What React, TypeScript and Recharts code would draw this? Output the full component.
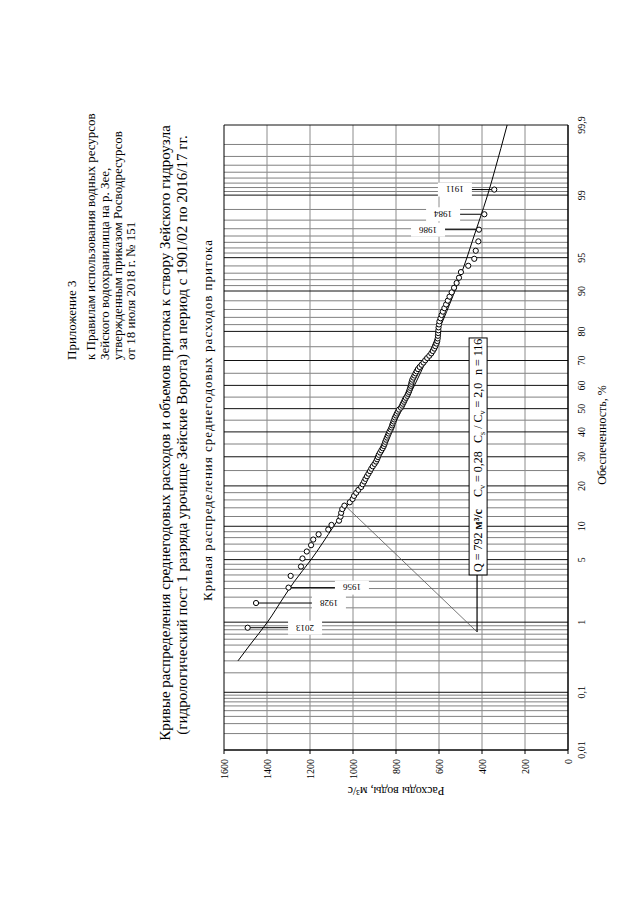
import React from 'react';
import {
  ComposedChart,
  Scatter,
  Line,
  XAxis,
  YAxis,
  ReferenceLine,
  ReferenceDot,
} from 'recharts';

const FONT = '"Liberation Serif", "Times New Roman", serif';

// probability axis (exceedance, %), drawn on normal probability paper
const PROB_TICKS = [0.01, 0.1, 1, 5, 10, 20, 30, 40, 50, 60, 70, 80, 90, 95, 99, 99.9];
const PROB_GRID = [
  0.02, 0.03, 0.04, 0.05, 0.06, 0.07, 0.08, 0.09,
  0.2, 0.3, 0.4, 0.5, 0.6, 0.7, 0.8, 0.9,
  1.5, 2, 2.5, 3, 3.5, 4, 4.5,
  6, 7, 8, 9, 12, 14, 16, 18,
  25, 35, 45, 55, 65, 75,
  82, 84, 86, 88, 91, 92, 93, 94,
  95.5, 96, 96.5, 97, 97.5, 98, 98.5,
  99.1, 99.2, 99.3, 99.4, 99.5, 99.6, 99.7, 99.8,
];
const Q_TICKS = [0, 200, 400, 600, 800, 1000, 1200, 1400, 1600];

// observed annual discharges, m3/s, at their plotting positions (%)
const OBS_P = [
  0.85, 1.71, 2.56, 3.42, 4.27, 5.13, 5.98, 6.84, 7.69, 8.55,
  9.4, 10.26, 11.11, 11.97, 12.82, 13.68, 14.53, 15.38, 16.24, 17.09,
  17.95, 18.8, 19.66, 20.51, 21.37, 22.22, 23.08, 23.93, 24.79, 25.64,
  26.5, 27.35, 28.21, 29.06, 29.91, 30.77, 31.62, 32.48, 33.33, 34.19,
  35.04, 35.9, 36.75, 37.61, 38.46, 39.32, 40.17, 41.03, 41.88, 42.74,
  43.59, 44.44, 45.3, 46.15, 47.01, 47.86, 48.72, 49.57, 50.43, 51.28,
  52.14, 52.99, 53.85, 54.7, 55.56, 56.41, 57.26, 58.12, 58.97, 59.83,
  60.68, 61.54, 62.39, 63.25, 64.1, 64.96, 65.81, 66.67, 67.52, 68.38,
  69.23, 70.09, 70.94, 71.79, 72.65, 73.5, 74.36, 75.21, 76.07, 76.92,
  77.78, 78.63, 79.49, 80.34, 81.2, 82.05, 82.91, 83.76, 84.62, 85.47,
  86.32, 87.18, 88.03, 88.89, 89.74, 90.6, 91.45, 92.31, 93.16, 94.02,
  94.87, 95.73, 96.58, 97.44, 98.29, 99.15,
];
const OBS_Q = [
  1490, 1451, 1300, 1290, 1242, 1235, 1215, 1195, 1185, 1160,
  1115, 1100, 1065, 1058, 1055, 1050, 1040, 1015, 1002, 995,
  985, 975, 962, 955, 948, 942, 935, 928, 921, 915,
  908, 900, 893, 888, 884, 880, 874, 868, 862, 857,
  853, 850, 846, 842, 838, 834, 830, 825, 821, 818,
  815, 811, 808, 805, 800, 796, 791, 786, 777, 772,
  768, 763, 759, 754, 748, 744, 740, 737, 734, 731,
  729, 727, 724, 719, 714, 709, 704, 698, 690, 681,
  672, 664, 655, 645, 636, 629, 622, 617, 612, 608,
  606, 605, 604, 603, 602, 600, 598, 593, 588, 582,
  575, 567, 559, 551, 541, 530, 518, 507, 498, 464,
  436, 429, 417, 414, 389, 343,
];

// fitted distribution curve
const CURVE_P = [0.3, 0.5, 1, 2, 3, 5, 10, 20, 30, 40, 50, 60, 70, 80, 90, 95, 97, 98, 99, 99.5, 99.9];
const CURVE_Q = [1535, 1480, 1398, 1322, 1272, 1195, 1090, 968, 890, 827, 770, 714, 660, 603, 526, 470, 437, 412, 374, 343, 283];

// years marked on the extreme points
const YEAR_NAMES = ['2013', '1928', '1956', '1986', '1984', '1911'];
const YEAR_P = [0.85, 1.71, 2.56, 97.44, 98.29, 99.15];
const YEAR_Q = [1490, 1451, 1300, 414, 389, 343];
const YEAR_AT = [1223, 1112, 1005, 651, 581, 526];

// parameters box (top-left corner) and its pointer
const BOX_P = 3.5;
const BOX_Q = 460;
const LINK_P = [0.75, 14.1];
const LINK_Q = [423, 1028];

// inverse standard normal (Acklam)
function probit(p: number): number {
  const a = [-39.69683028665376, 220.9460984245205, -275.9285104469687, 138.357751867269, -30.66479806614716, 2.506628277459239];
  const b = [-54.47609879822406, 161.5858368580409, -155.6989798598866, 66.80131188771972, -13.28068155288572];
  const c = [-0.007784894002430293, -0.3223964580411365, -2.400758277161838, -2.549671348980410, 4.374664141464968, 2.938163982698783];
  const d = [0.007784695709041462, 0.3224671290700398, 2.445134137142996, 3.754408661907416];
  const pl = 0.02425;
  if (p < pl) {
    const q = Math.sqrt(-2 * Math.log(p));
    return (((((c[0] * q + c[1]) * q + c[2]) * q + c[3]) * q + c[4]) * q + c[5]) / ((((d[0] * q + d[1]) * q + d[2]) * q + d[3]) * q + 1);
  }
  if (p <= 1 - pl) {
    const q = p - 0.5;
    const r = q * q;
    return ((((((a[0] * r + a[1]) * r + a[2]) * r + a[3]) * r + a[4]) * r + a[5]) * q) / (((((b[0] * r + b[1]) * r + b[2]) * r + b[3]) * r + b[4]) * r + 1);
  }
  const q = Math.sqrt(-2 * Math.log(1 - p));
  return -(((((c[0] * q + c[1]) * q + c[2]) * q + c[3]) * q + c[4]) * q + c[5]) / ((((d[0] * q + d[1]) * q + d[2]) * q + d[3]) * q + 1);
}

const zOf = (p: number) => probit(p / 100);
const Z_MIN = zOf(0.01);
const Z_MAX = zOf(99.9);

const obsData = OBS_P.map((p, i) => ({ z: zOf(p), q: OBS_Q[i] }));
const curveData = CURVE_P.map((p, i) => ({ z: zOf(p), q: CURVE_Q[i] }));

const probLabel = (z: number) => {
  const i = PROB_TICKS.findIndex((p) => Math.abs(zOf(p) - z) < 1e-9);
  return i < 0 ? '' : String(PROB_TICKS[i]).replace('.', ',');
};

const Circle = (props: any) => (
  <circle cx={props.cx} cy={props.cy} r={2.6} fill="#fff" stroke="#000" strokeWidth={1} />
);

const YearTag = (name: string) => (props: any) => (
  <g transform={`translate(${props.cx},${props.cy})`}>
    <rect x={-7} y={-17} width={14} height={34} fill="#fff" />
    <text transform="rotate(-90)" textAnchor="middle" dy="0.35em" fontSize={9} fontFamily={FONT} fill="#000">
      {name}
    </text>
  </g>
);

// box with the distribution parameters, anchored at its top-left corner
const ParamBox = (props: any) => {
  const x = props.cx;
  const y = props.cy;
  const width = 237;
  const height = 18;
  const base = y + height / 2 + 4;
  const sub = { fontSize: 8 };
  return (
    <g fontFamily={FONT} fontSize={12} fill="#000">
      <rect x={x} y={y} width={width} height={height} fill="#fff" stroke="#000" strokeWidth={1} />
      <text x={x + 3} y={base}>
        Q = 792 <tspan fontWeight="bold">м³/с</tspan>
      </text>
      <text x={x + 78} y={base}>
        C<tspan dy={3} {...sub}>v</tspan>
        <tspan dy={-3}> = 0,28</tspan>
      </text>
      <text x={x + 132} y={base}>
        C<tspan dy={3} {...sub}>s</tspan>
        <tspan dy={-3}> / C</tspan>
        <tspan dy={3} {...sub}>v</tspan>
        <tspan dy={-3}> = 2,0</tspan>
      </text>
      <text x={x + 200} y={base}>n = 116</text>
    </g>
  );
};

const AxisTick = { fontSize: 10, fontFamily: FONT, fill: '#000' };

export default function App() {
  return (
    <div style={{ position: 'absolute', left: 0, top: 0, width: 640, height: 905, overflow: 'hidden', background: '#fff' }}>
      <div
        style={{
          position: 'absolute',
          left: 0,
          top: 0,
          width: 905,
          height: 640,
          transformOrigin: '0 0',
          transform: 'translateY(905px) rotate(-90deg)',
        }}
      >
        <div style={{ position: 'absolute', left: 0, top: 0 }}>
          <ComposedChart width={905} height={640} margin={{ top: 224, right: 125, bottom: 42, left: 115 }}>
            <XAxis
              type="number"
              dataKey="z"
              domain={[Z_MIN, Z_MAX]}
              allowDataOverflow
              ticks={PROB_TICKS.map(zOf)}
              interval={0}
              tickFormatter={probLabel}
              tickLine={false}
              tickSize={0}
              tickMargin={10}
              height={30}
              axisLine={{ stroke: '#000' }}
              tick={AxisTick}
            />
            <YAxis
              type="number"
              dataKey="q"
              domain={[0, 1600]}
              allowDataOverflow
              ticks={Q_TICKS}
              interval={0}
              width={40}
              tickSize={4}
              tickMargin={5}
              axisLine={{ stroke: '#000' }}
              tickLine={{ stroke: '#000' }}
              tick={AxisTick}
            />
            {PROB_GRID.map((p) => (
              <ReferenceLine key={'g' + p} x={zOf(p)} stroke="#808080" strokeWidth={1} />
            ))}
            {Q_TICKS.slice(1, -1).map((q) => (
              <ReferenceLine key={'q' + q} y={q} stroke="#8c8c8c" strokeWidth={1} />
            ))}
            {PROB_TICKS.map((p) => (
              <ReferenceLine key={'t' + p} x={zOf(p)} stroke="#111" strokeWidth={1} ifOverflow="visible" />
            ))}
            <ReferenceLine y={1600} stroke="#000" ifOverflow="visible" />
            <ReferenceLine y={0} stroke="#000" ifOverflow="visible" />

            {YEAR_NAMES.map((n, i) => (
              <ReferenceLine
                key={'l' + n}
                segment={[
                  { x: zOf(YEAR_P[i]), y: YEAR_Q[i] },
                  { x: zOf(YEAR_P[i]), y: YEAR_AT[i] },
                ]}
                stroke="#000"
                strokeWidth={1}
              />
            ))}
            <ReferenceLine
              segment={[
                { x: zOf(LINK_P[0]), y: LINK_Q[0] },
                { x: zOf(BOX_P), y: LINK_Q[0] },
              ]}
              stroke="#000"
              strokeWidth={1.2}
            />
            <ReferenceLine
              segment={[
                { x: zOf(LINK_P[0]), y: LINK_Q[0] },
                { x: zOf(LINK_P[1]), y: LINK_Q[1] },
              ]}
              stroke="#555"
              strokeWidth={0.8}
            />

            <Line
              data={curveData}
              dataKey="q"
              type="monotone"
              stroke="#000"
              strokeWidth={1}
              dot={false}
              isAnimationActive={false}
            />
            <Scatter data={obsData} dataKey="q" shape={Circle} isAnimationActive={false} />

            {YEAR_NAMES.map((n, i) => (
              <ReferenceDot key={'d' + n} x={zOf(YEAR_P[i])} y={YEAR_AT[i]} r={0} shape={YearTag(n)} />
            ))}
            <ReferenceDot x={zOf(BOX_P)} y={BOX_Q} r={0} shape={ParamBox} />
          </ComposedChart>
        </div>
        <svg
          width={905}
          height={640}
          style={{ position: 'absolute', left: 0, top: 0, pointerEvents: 'none' }}
          fontFamily={FONT}
          fill="#000"
        >
          <g fontSize={13}>
            <text x={545} y={76}>Приложение 3</text>
            <text x={545} y={95}>к Правилам использования водных ресурсов</text>
            <text x={545} y={109}>Зейского водохранилища на р. Зее,</text>
            <text x={545} y={122}>утвержденным приказом Росводресурсов</text>
            <text x={545} y={135}>от 18 июля 2018 г. № 151</text>
          </g>
          <g fontSize={15} textAnchor="middle">
            <text x={472} y={170}>
              Кривые распределения среднегодовых расходов и объемов притока к створу Зейского гидроузла
            </text>
            <text x={470} y={187}>
              (гидрологический пост 1 разряда урочище Зейские Ворота) за период с 1901/02 по 2016/17 гг.
            </text>
          </g>
          <text x={485} y={212} fontSize={13} letterSpacing={1} textAnchor="middle">
            Кривая распределения среднегодовых расходов притока
          </text>
          <text x={470} y={606} fontSize={12} textAnchor="middle">
            Обеспеченность, %
          </text>
          <text transform="translate(118,396) rotate(-90)" fontSize={12} textAnchor="middle">
            Расходы воды, м³/с
          </text>
        </svg>
      </div>
    </div>
  );
}
